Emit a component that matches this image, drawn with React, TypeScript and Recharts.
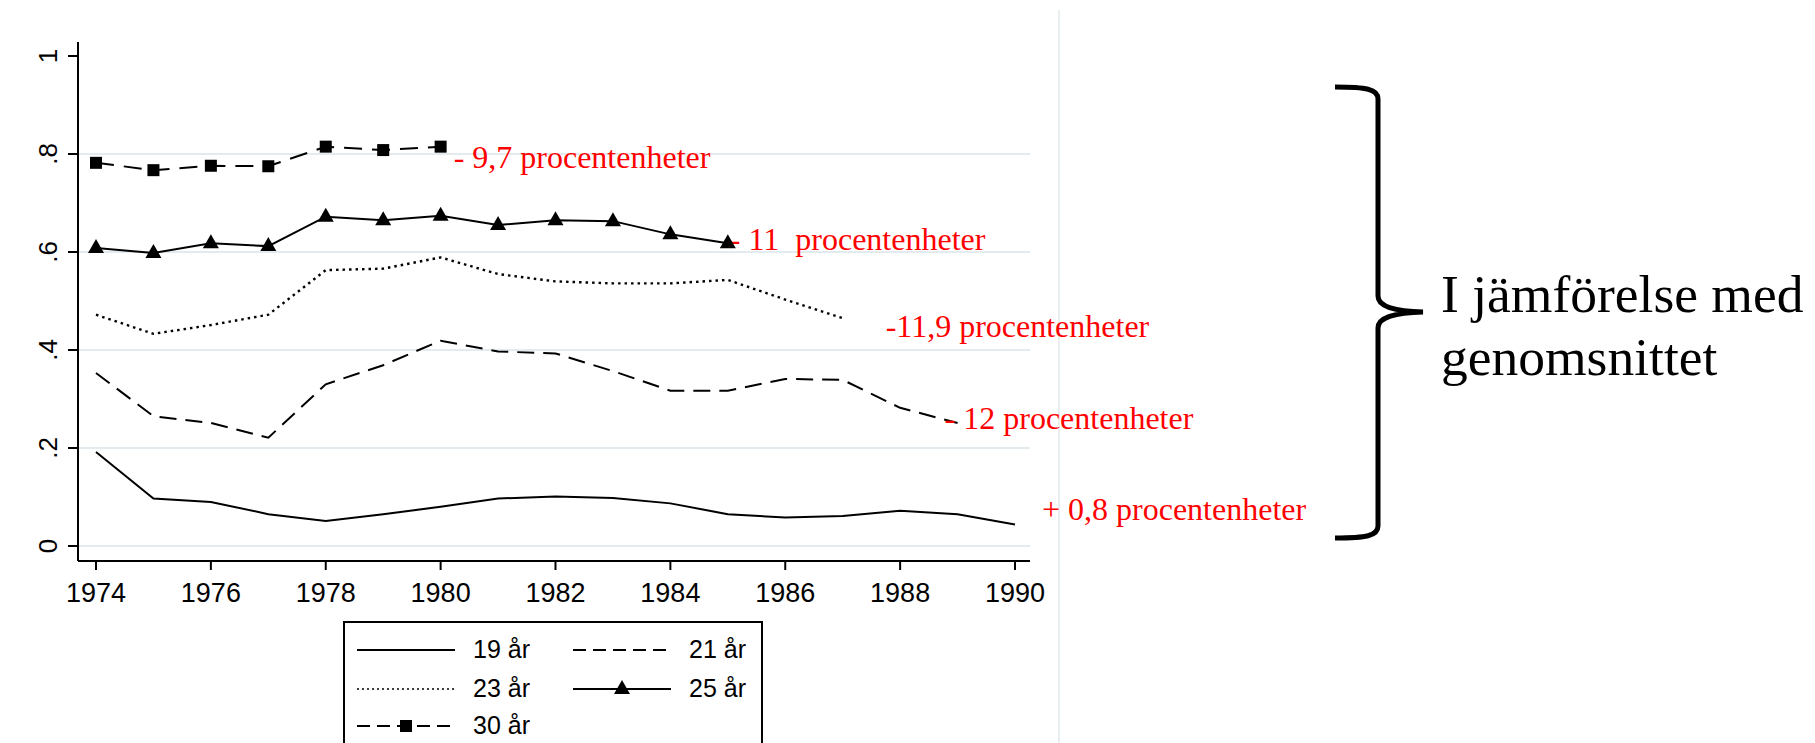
import React from 'react';
import { LineChart, Line, XAxis, YAxis, CartesianGrid, ReferenceDot, Legend } from 'recharts';

// years on the x axis
const years = [1974, 1975, 1976, 1977, 1978, 1979, 1980, 1981, 1982, 1983, 1984, 1985, 1986, 1987, 1988, 1989, 1990];

// share per age group (series end at different years)
const age19 = [0.192, 0.097, 0.09, 0.065, 0.051, 0.065, 0.08, 0.097, 0.101, 0.098, 0.087, 0.065, 0.058, 0.061, 0.072, 0.065, 0.044];
const age21 = [0.353, 0.265, 0.251, 0.221, 0.33, 0.369, 0.419, 0.397, 0.393, 0.357, 0.317, 0.317, 0.341, 0.339, 0.282, 0.251];
const age23 = [0.472, 0.433, 0.451, 0.472, 0.563, 0.566, 0.589, 0.555, 0.54, 0.536, 0.536, 0.543, 0.503, 0.465];
const age25 = [0.608, 0.598, 0.618, 0.612, 0.672, 0.665, 0.674, 0.655, 0.665, 0.663, 0.636, 0.618];
const age30 = [0.782, 0.767, 0.776, 0.775, 0.815, 0.808, 0.815];

const xTicks = [1974, 1976, 1978, 1980, 1982, 1984, 1986, 1988, 1990];
const yTicks = [0, 0.2, 0.4, 0.6, 0.8, 1];
const yTickLabels = ['0', '.2', '.4', '.6', '.8', '1'];
const gridValues = [0, 0.2, 0.4, 0.6, 0.8];

const seriesKeys = ['a19', 'a21', 'a23', 'a25', 'a30'];
const seriesNames = ['19 år', '21 år', '23 år', '25 år', '30 år'];
const endNotes = ['+ 0,8 procentenheter', '- 12 procentenheter', '-11,9 procentenheter', '- 11  procentenheter', '- 9,7 procentenheter'];
const sideText = ['I jämförelse med', 'genomsnittet'];

const seriesValues = [age19, age21, age23, age25, age30];

const chartData = years.map((year, i) => {
  const row: { [key: string]: number | null } = { year };
  seriesKeys.forEach((key, s) => {
    const v = seriesValues[s][i];
    row[key] = v === undefined ? null : v;
  });
  return row;
});

// how each series is drawn
const styles = [
  { dash: undefined, legendDash: undefined, width: 2, marker: 'none' },
  { dash: '17 9', legendDash: '13 7', width: 2, marker: 'none' },
  { dash: '2.5 4', legendDash: '2 3', width: 2.4, marker: 'none' },
  { dash: undefined, legendDash: undefined, width: 2, marker: 'triangle' },
  { dash: '18 10', legendDash: '13 7', width: 2, marker: 'square' },
];

// text offsets from each series' last point, in pixels
const noteOffsets = [
  { dx: 27, dy: -4 },
  { dx: -13, dy: 6 },
  { dx: 43, dy: 19 },
  { dx: 2, dy: 7 },
  { dx: 13, dy: 21 },
];

const Triangle = ({ cx, cy }: { cx: number; cy: number }) => (
  <polygon points={`${cx},${cy - 9} ${cx - 8},${cy + 5} ${cx + 8},${cy + 5}`} fill="#000" />
);
const Square = ({ cx, cy }: { cx: number; cy: number }) => (
  <rect x={cx - 6} y={cy - 6} width={12} height={12} fill="#000" />
);

const makeDot = (marker: string) => (props: any) => {
  const { cx, cy, key, value } = props;
  if (cy == null || value == null || marker === 'none') return <g key={key} />;
  return (
    <g key={key}>
      {marker === 'triangle' ? <Triangle cx={cx} cy={cy} /> : <Square cx={cx} cy={cy} />}
    </g>
  );
};

const YTick = (props: any) => {
  const { x, y, payload } = props;
  const bx = x - 9;
  const idx = yTicks.indexOf(payload.value);
  return (
    <text
      x={bx}
      y={y}
      transform={`rotate(-90, ${bx}, ${y})`}
      textAnchor="middle"
      fontFamily="'Liberation Sans', Arial, sans-serif"
      fontSize={26}
      fill="#000"
    >
      {yTickLabels[idx]}
    </text>
  );
};

const XTick = (props: any) => {
  const { x, y, payload } = props;
  return (
    <text
      x={x}
      y={y + 30}
      textAnchor="middle"
      fontFamily="'Liberation Sans', Arial, sans-serif"
      fontSize={27}
      fill="#000"
    >
      {payload.value}
    </text>
  );
};

const legendSpots = [
  { left: 14, top: 27 },
  { left: 230, top: 27 },
  { left: 14, top: 66 },
  { left: 230, top: 66 },
  { left: 14, top: 103 },
];

const LegendBox = () => (
  <div
    style={{
      position: 'relative',
      width: 416,
      height: 140,
      border: '2px solid #000',
      background: '#fff',
      fontFamily: "'Liberation Sans', Arial, sans-serif",
      fontSize: 25,
    }}
  >
    {seriesNames.map((name, i) => {
      const st = styles[i];
      return (
        <div key={name} style={{ position: 'absolute', left: legendSpots[i].left - 2, top: legendSpots[i].top - 12, height: 24 }}>
          <svg width={98} height={24} style={{ position: 'absolute', left: 0, top: 0 }}>
            <line x1={0} y1={12} x2={98} y2={12} stroke="#000" strokeWidth={st.marker === 'none' && st.width > 2 ? 1.6 : 2} strokeDasharray={st.legendDash} />
            {st.marker === 'triangle' && <Triangle cx={49} cy={12} />}
            {st.marker === 'square' && <Square cx={49} cy={12} />}
          </svg>
          <span style={{ position: 'absolute', left: 116, top: -3, whiteSpace: 'nowrap', lineHeight: '28px' }}>{name}</span>
        </div>
      );
    })}
  </div>
);

export default function App() {
  return (
    <div style={{ position: 'absolute', left: 0, top: 0, width: 1815, height: 743, overflow: 'hidden', background: '#fff' }}>
      <div style={{ position: 'absolute', left: 1058, top: 10, width: 2, height: 733, background: '#e9eff1' }} />
      <LineChart
        width={1815}
        height={743}
        data={chartData}
        margin={{ top: 42, right: 785, bottom: 132, left: 18 }}
      >
        <CartesianGrid vertical={false} horizontalValues={gridValues} stroke="#e3ebee" strokeWidth={2} />
        <XAxis
          dataKey="year"
          type="number"
          domain={[1974, 1990]}
          ticks={xTicks}
          padding={{ left: 18, right: 15 }}
          height={50}
          tickSize={9}
          tick={<XTick />}
          axisLine={{ stroke: '#000', strokeWidth: 2 }}
          tickLine={{ stroke: '#000', strokeWidth: 2 }}
        />
        <YAxis
          type="number"
          domain={[0, 1]}
          ticks={yTicks}
          padding={{ top: 14, bottom: 15 }}
          width={60}
          tickSize={10}
          tick={<YTick />}
          axisLine={{ stroke: '#000', strokeWidth: 2 }}
          tickLine={{ stroke: '#000', strokeWidth: 2 }}
        />
        {seriesKeys.map((key, i) => (
          <Line
            key={key}
            type="linear"
            dataKey={key}
            name={seriesNames[i]}
            stroke="#000"
            strokeWidth={styles[i].width}
            strokeDasharray={styles[i].dash}
            dot={makeDot(styles[i].marker)}
            activeDot={false}
            isAnimationActive={false}
          />
        ))}
        {seriesValues.map((vals, i) => (
          <ReferenceDot
            key={`note-${i}`}
            x={years[vals.length - 1]}
            y={vals[vals.length - 1]}
            r={0}
            ifOverflow="visible"
            shape={(p: any) => (
              <text
                x={p.cx + noteOffsets[i].dx}
                y={p.cy + noteOffsets[i].dy}
                fill="#ff0000"
                fontFamily="'Liberation Serif', 'Times New Roman', serif"
                fontSize={32}
                style={{ whiteSpace: 'pre' }}
              >
                {endNotes[i]}
              </text>
            )}
          />
        ))}
        <Legend
          layout="horizontal"
          verticalAlign="middle"
          align="center"
          wrapperStyle={{ top: 621, left: 343, width: 420, height: 142 }}
          content={() => <LegendBox />}
        />
      </LineChart>
      <svg width={1815} height={743} style={{ position: 'absolute', left: 0, top: 0, pointerEvents: 'none' }}>
        <path
          d="M1335,87 C1366,87 1378,89 1378,99 L1378,296 C1378,306 1392,311 1423,312 C1392,313 1378,318 1378,328 L1378,526 C1378,536 1366,538 1335,538"
          fill="none"
          stroke="#000"
          strokeWidth={5}
        />
        <text x={1441} y={312} fontFamily="'Liberation Serif', 'Times New Roman', serif" fontSize={53.5} fill="#000">{sideText[0]}</text>
        <text x={1441} y={375} fontFamily="'Liberation Serif', 'Times New Roman', serif" fontSize={53.5} fill="#000">{sideText[1]}</text>
      </svg>
    </div>
  );
}
